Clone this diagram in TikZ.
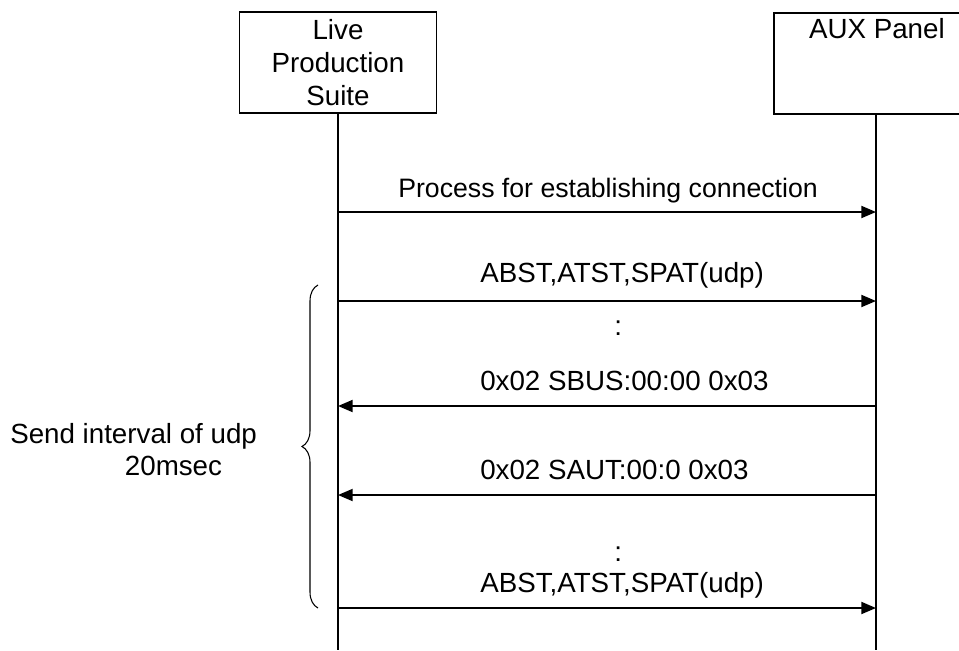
\documentclass[tikz,border=0pt]{standalone}
\usepackage{fontspec}
\setmainfont{Liberation Sans}
\usepackage{tikz}
\usetikzlibrary{arrows.meta,decorations.pathreplacing}
\tikzset{
  actor/.style={draw,line width=1.4pt,align=center,inner sep=0pt},
  life/.style={line width=1.2pt},
  arrow/.style={line width=1.4pt,-{Triangle[length=11pt,width=9pt]}},
  lbl/.style={inner sep=0pt,anchor=base west}
}

\begin{document}
\begin{tikzpicture}[x=0.75pt,y=-0.75pt,font=\fontsize{20.8}{24.5}\selectfont]
            % frame
            \useasboundingbox (0,0) rectangle (959,650);
            % participants
            \node [actor,minimum width=147.75pt,minimum height=75.75pt] (lps) at (338,62.5) {Live\\Production\\Suite};
            \node [actor,minimum width=154.5pt,text height=19.5pt,text depth=56.25pt,anchor=north west] (aux) at (773,12) {AUX Panel};
            \coordinate (lpsend) at (338,650);
            \coordinate (auxend) at (876,650);
            \draw [life] (lps.south) -- (lpsend);
            \draw [life] (aux.south -| auxend) -- (auxend);
            % messages
            \coordinate (l1) at (338,212); \coordinate (r1) at (876,212);
            \coordinate (l2) at (338,301); \coordinate (r2) at (876,301);
            \coordinate (l3) at (338,406); \coordinate (r3) at (876,406);
            \coordinate (l4) at (338,495); \coordinate (r4) at (876,495);
            \coordinate (l5) at (338,608); \coordinate (r5) at (876,608);
            \draw [arrow] (l1) -- (r1);
            \draw [arrow] (l2) -- (r2);
            \draw [arrow] (r3) -- (l3);
            \draw [arrow] (r4) -- (l4);
            \draw [arrow] (l5) -- (r5);
            \node [lbl,font=\fontsize{20}{24}\selectfont] (m1) at (398,197) {Process for establishing connection};
            \node [lbl] (m2) at (480,282) {ABST,ATST,SPAT(udp)};
            \node [lbl] (d1) at (614,335) {:};
            \node [lbl] (m3) at (480,390) {0x02 SBUS:00:00 0x03};
            \node [lbl] (m4) at (480,479) {0x02 SAUT:00:0 0x03};
            \node [lbl] (d2) at (614,561) {:};
            \node [lbl] (m5) at (480,592) {ABST,ATST,SPAT(udp)};
            % interval
            \coordinate (bbot) at (318,608);
            \coordinate (btop) at (318,285);
            \draw [line width=0.8pt,decorate,decoration={brace,amplitude=12pt}] (bbot) -- (btop);
            \node [inner sep=0pt,align=left,anchor=west] (iv) at (10,449.5) {Send interval of udp\\\hspace{86pt}20msec};
        \end{tikzpicture}
\end{document}
